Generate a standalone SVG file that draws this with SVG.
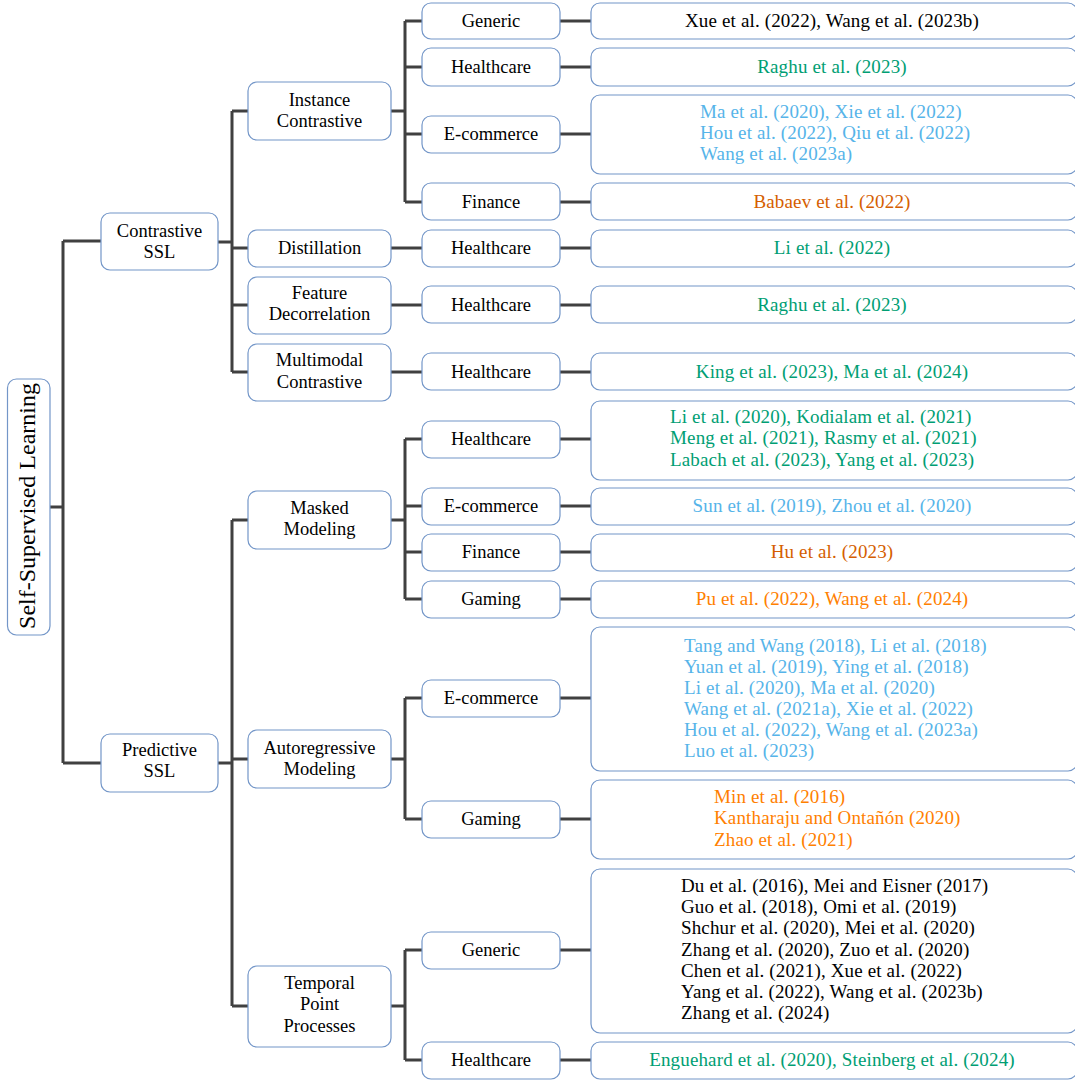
<svg xmlns="http://www.w3.org/2000/svg" width="1075" height="1080" viewBox="0 0 1075 1080">
<style>
.n{fill:#fff;stroke:#7396c8;stroke-width:1.2}
.t{font-family:"Liberation Serif","Times New Roman",serif;font-size:18.5px;fill:#000}
.l{font-size:19px;letter-spacing:0.15px}
.c{text-anchor:middle}
.g{fill:#009e73}.b{fill:#56b4e9}.o{fill:#d55e00}.y{fill:#ff8000}
.e path{fill:none;stroke:#404040;stroke-width:3}
</style>
<rect width="1075" height="1080" fill="#fff"/>
<g class="e" id="connectors">
<path d="M50 507H63M63 241V763M63 241H101M63 763H101"/>
<path d="M218 242H232M232 111V372M232 111H248M232 248H248M232 305H248M232 372H248"/>
<path d="M218 763H232M232 520V1006M232 520H248M232 759H248M232 1006H248"/>
<path d="M391 111H405M405 21V202M405 21H422M405 67H422M405 134H422M405 202H422"/>
<path d="M391 248H422M391 305H422M391 372H422"/>
<path d="M391 520H405M405 439V599M405 439H422M405 506H422M405 552H422M405 599H422"/>
<path d="M391 759H405M405 698V819M405 698H422M405 819H422"/>
<path d="M391 1006H405M405 950V1060M405 950H422M405 1060H422"/>
<path d="M560 21H591M560 67H591M560 134H591M560 202H591M560 248H591M560 305H591M560 372H591M560 439H591M560 506H591M560 552H591M560 599H591M560 698H591M560 819H591M560 950H591M560 1060H591"/>
</g>
<g id="root"><rect class="n" x="7.5" y="379" width="42.5" height="256" rx="9"/><text class="t c" transform="translate(35 506) rotate(-90)" style="font-size:24px">Self-Supervised Learning</text></g>
<g id="contrastive-ssl"><rect class="n" x="101" y="213" width="117" height="57" rx="9"/><text class="t c" x="159.5" y="237">Contrastive</text><text class="t c" x="159.5" y="258">SSL</text></g>
<g id="predictive-ssl"><rect class="n" x="101" y="734" width="117" height="58" rx="9"/><text class="t c" x="159.5" y="756">Predictive</text><text class="t c" x="159.5" y="777">SSL</text></g>
<g id="instance-contrastive"><rect class="n" x="248" y="82" width="143" height="58" rx="9"/><text class="t c" x="319.5" y="106">Instance</text><text class="t c" x="319.5" y="127">Contrastive</text></g>
<g id="distillation"><rect class="n" x="248" y="230" width="143" height="37" rx="9"/><text class="t c" x="319.5" y="254">Distillation</text></g>
<g id="feature-decorrelation"><rect class="n" x="248" y="277" width="143" height="57" rx="9"/><text class="t c" x="319.5" y="299">Feature</text><text class="t c" x="319.5" y="320">Decorrelation</text></g>
<g id="multimodal-contrastive"><rect class="n" x="248" y="344" width="143" height="57" rx="9"/><text class="t c" x="319.5" y="366">Multimodal</text><text class="t c" x="319.5" y="388">Contrastive</text></g>
<g id="masked-modeling"><rect class="n" x="248" y="491" width="143" height="58" rx="9"/><text class="t c" x="319.5" y="514">Masked</text><text class="t c" x="319.5" y="535">Modeling</text></g>
<g id="autoregressive-modeling"><rect class="n" x="248" y="730" width="143" height="58" rx="9"/><text class="t c" x="319.5" y="754">Autoregressive</text><text class="t c" x="319.5" y="775">Modeling</text></g>
<g id="temporal-point-processes"><rect class="n" x="248" y="966" width="143" height="81" rx="9"/><text class="t c" x="319.5" y="989">Temporal</text><text class="t c" x="319.5" y="1010">Point</text><text class="t c" x="319.5" y="1032">Processes</text></g>
<g id="ic-generic"><rect class="n" x="422" y="3" width="138" height="36" rx="9"/><text class="t c" x="491" y="27">Generic</text></g>
<g id="ic-healthcare"><rect class="n" x="422" y="48" width="138" height="38" rx="9"/><text class="t c" x="491" y="73">Healthcare</text></g>
<g id="ic-ecommerce"><rect class="n" x="422" y="116" width="138" height="37" rx="9"/><text class="t c" x="491" y="140">E-commerce</text></g>
<g id="ic-finance"><rect class="n" x="422" y="183" width="138" height="37" rx="9"/><text class="t c" x="491" y="208">Finance</text></g>
<g id="di-healthcare"><rect class="n" x="422" y="230" width="138" height="37" rx="9"/><text class="t c" x="491" y="254">Healthcare</text></g>
<g id="fd-healthcare"><rect class="n" x="422" y="286" width="138" height="37" rx="9"/><text class="t c" x="491" y="311">Healthcare</text></g>
<g id="mc-healthcare"><rect class="n" x="422" y="353" width="138" height="37" rx="9"/><text class="t c" x="491" y="378">Healthcare</text></g>
<g id="mm-healthcare"><rect class="n" x="422" y="421" width="138" height="37" rx="9"/><text class="t c" x="491" y="445">Healthcare</text></g>
<g id="mm-ecommerce"><rect class="n" x="422" y="488" width="138" height="37" rx="9"/><text class="t c" x="491" y="512">E-commerce</text></g>
<g id="mm-finance"><rect class="n" x="422" y="534" width="138" height="37" rx="9"/><text class="t c" x="491" y="558">Finance</text></g>
<g id="mm-gaming"><rect class="n" x="422" y="581" width="138" height="37" rx="9"/><text class="t c" x="491" y="605">Gaming</text></g>
<g id="ar-ecommerce"><rect class="n" x="422" y="680" width="138" height="37" rx="9"/><text class="t c" x="491" y="704">E-commerce</text></g>
<g id="ar-gaming"><rect class="n" x="422" y="801" width="138" height="37" rx="9"/><text class="t c" x="491" y="825">Gaming</text></g>
<g id="tpp-generic"><rect class="n" x="422" y="932" width="138" height="37" rx="9"/><text class="t c" x="491" y="956">Generic</text></g>
<g id="tpp-healthcare"><rect class="n" x="422" y="1042" width="138" height="37" rx="9"/><text class="t c" x="491" y="1066">Healthcare</text></g>
<g id="leaf-1"><rect class="n" x="591" y="3" width="486" height="36" rx="9"/><text class="t l c" x="832" y="27">Xue et al. (2022), Wang et al. (2023b)</text></g>
<g id="leaf-2"><rect class="n" x="591" y="48" width="486" height="38" rx="9"/><text class="t l c g" x="832" y="73">Raghu et al. (2023)</text></g>
<g id="leaf-3"><rect class="n" x="591" y="95" width="486" height="79" rx="9"/><text class="t l b" x="700" y="118">Ma et al. (2020), Xie et al. (2022)</text><text class="t l b" x="700" y="139">Hou et al. (2022), Qiu et al. (2022)</text><text class="t l b" x="700" y="160">Wang et al. (2023a)</text></g>
<g id="leaf-4"><rect class="n" x="591" y="183" width="486" height="37" rx="9"/><text class="t l c o" x="832" y="208">Babaev et al. (2022)</text></g>
<g id="leaf-5"><rect class="n" x="591" y="230" width="486" height="37" rx="9"/><text class="t l c g" x="832" y="254">Li et al. (2022)</text></g>
<g id="leaf-6"><rect class="n" x="591" y="286" width="486" height="37" rx="9"/><text class="t l c g" x="832" y="311">Raghu et al. (2023)</text></g>
<g id="leaf-7"><rect class="n" x="591" y="353" width="486" height="37" rx="9"/><text class="t l c g" x="832" y="378">King et al. (2023), Ma et al. (2024)</text></g>
<g id="leaf-8"><rect class="n" x="591" y="401" width="486" height="79" rx="9"/><text class="t l g" x="670" y="423">Li et al. (2020), Kodialam et al. (2021)</text><text class="t l g" x="670" y="444">Meng et al. (2021), Rasmy et al. (2021)</text><text class="t l g" x="670" y="466">Labach et al. (2023), Yang et al. (2023)</text></g>
<g id="leaf-9"><rect class="n" x="591" y="488" width="486" height="37" rx="9"/><text class="t l c b" x="832" y="512">Sun et al. (2019), Zhou et al. (2020)</text></g>
<g id="leaf-10"><rect class="n" x="591" y="534" width="486" height="37" rx="9"/><text class="t l c o" x="832" y="558">Hu et al. (2023)</text></g>
<g id="leaf-11"><rect class="n" x="591" y="581" width="486" height="37" rx="9"/><text class="t l c y" x="832" y="605">Pu et al. (2022), Wang et al. (2024)</text></g>
<g id="leaf-12"><rect class="n" x="591" y="627" width="486" height="144" rx="9"/><text class="t l b" x="684" y="652">Tang and Wang (2018), Li et al. (2018)</text><text class="t l b" x="684" y="673">Yuan et al. (2019), Ying et al. (2018)</text><text class="t l b" x="684" y="694">Li et al. (2020), Ma et al. (2020)</text><text class="t l b" x="684" y="715">Wang et al. (2021a), Xie et al. (2022)</text><text class="t l b" x="684" y="736">Hou et al. (2022), Wang et al. (2023a)</text><text class="t l b" x="684" y="757">Luo et al. (2023)</text></g>
<g id="leaf-13"><rect class="n" x="591" y="780" width="486" height="79" rx="9"/><text class="t l y" x="714" y="803">Min et al. (2016)</text><text class="t l y" x="714" y="824">Kantharaju and Ontañón (2020)</text><text class="t l y" x="714" y="846">Zhao et al. (2021)</text></g>
<g id="leaf-14"><rect class="n" x="591" y="869" width="486" height="164" rx="9"/><text class="t l" x="681" y="892">Du et al. (2016), Mei and Eisner (2017)</text><text class="t l" x="681" y="913">Guo et al. (2018), Omi et al. (2019)</text><text class="t l" x="681" y="934">Shchur et al. (2020), Mei et al. (2020)</text><text class="t l" x="681" y="956">Zhang et al. (2020), Zuo et al. (2020)</text><text class="t l" x="681" y="977">Chen et al. (2021), Xue et al. (2022)</text><text class="t l" x="681" y="998">Yang et al. (2022), Wang et al. (2023b)</text><text class="t l" x="681" y="1019">Zhang et al. (2024)</text></g>
<g id="leaf-15"><rect class="n" x="591" y="1042" width="486" height="37" rx="9"/><text class="t l c g" x="832" y="1066">Enguehard et al. (2020), Steinberg et al. (2024)</text></g>
</svg>
